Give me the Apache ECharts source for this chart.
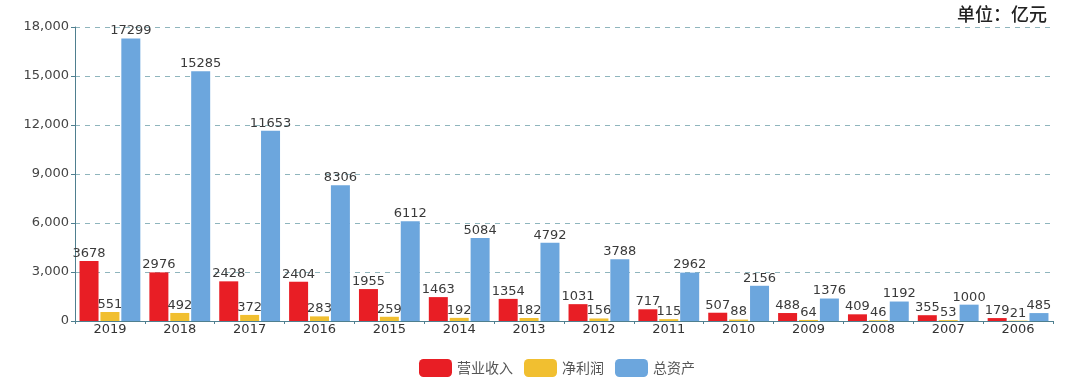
<!DOCTYPE html>
<html><head><meta charset="utf-8">
<script src="https://cdn.jsdelivr.net/npm/echarts@6/dist/echarts.min.js"></script>
<style>html,body{margin:0;padding:0;background:#fff}#c{width:1080px;height:386px}</style>
</head><body><div id="c"></div>
<script>
const categories = ['2019','2018','2017','2016','2015','2014','2013','2012','2011','2010','2009','2008','2007','2006'];
const revenue = [3678,2976,2428,2404,1955,1463,1354,1031,717,507,488,409,355,179];
const profit = [551,492,372,283,259,192,182,156,115,88,64,46,53,21];
const assets = [17299,15285,11653,8306,6112,5084,4792,3788,2962,2156,1376,1192,1000,485];
const seriesNames = ['营业收入','净利润','总资产'];
const colors = ['#E81E25','#F1BF30','#6CA6DD'];
const FONT = '"DejaVu Sans",sans-serif';
const CJK = '"Noto Sans CJK SC",sans-serif';
const chart = echarts.init(document.getElementById('c'));
const lbl = {show:true, position:'top', distance:1, color:'#3a3a3a', fontSize:13, fontFamily:FONT};
chart.setOption({
  animation:false,
  color: colors,
  textStyle:{fontFamily:FONT},
  title:{text:'单位：亿元', right:28, top:0, textStyle:{fontSize:18, fontWeight:500, color:'#222', fontFamily:CJK}},
  legend:{bottom:4, left:414, itemWidth:33, itemHeight:18, itemGap:11, icon:'roundRect',
    textStyle:{fontSize:14, color:'#555', fontFamily:CJK}, data:seriesNames},
  grid:{left:75, right:27, top:27, bottom:65, containLabel:false},
  xAxis:{type:'category', data:categories,
    axisLine:{lineStyle:{color:'#4f7f8f', width:1}},
    axisTick:{show:true, length:3, lineStyle:{color:'#4f7f8f'}},
    axisLabel:{color:'#333', fontSize:13, margin:2, fontFamily:FONT}},
  yAxis:{type:'value', min:0, max:18000, interval:3000,
    axisLine:{show:true, lineStyle:{color:'#4f7f8f', width:1}},
    axisTick:{show:true, length:4, inside:false, lineStyle:{color:'#4f7f8f'}},
    axisLabel:{color:'#444', fontSize:13, margin:6, fontFamily:FONT,
      formatter:v=>v.toLocaleString('en-US')},
    splitLine:{show:true, lineStyle:{type:[5,5], color:'#8fb5bd', width:1}}},
  series:[
    {name:seriesNames[0], type:'bar', data:revenue, barWidth:19, barGap:'10%', label:lbl},
    {name:seriesNames[1], type:'bar', data:profit, barWidth:19, barGap:'10%', label:lbl},
    {name:seriesNames[2], type:'bar', data:assets, barWidth:19, barGap:'10%', label:lbl}
  ]
});
</script></body></html>
